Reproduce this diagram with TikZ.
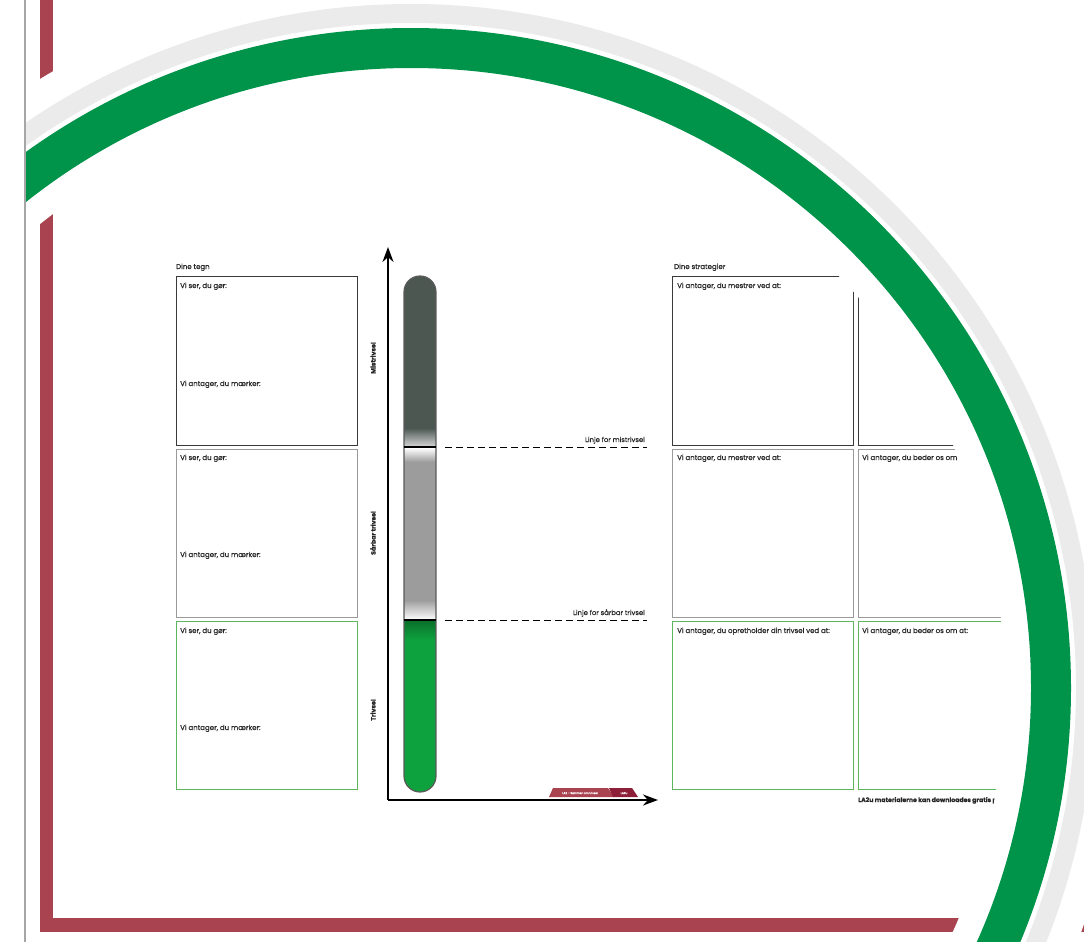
\documentclass[tikz,border=0pt]{standalone}
\usepackage{fontspec}
\setmainfont{Poppins}[FakeBold=0.4]
\usepackage{tikz}
\usetikzlibrary{arrows.meta,positioning}
\definecolor{framered}{HTML}{A8434F}
\definecolor{arcgreen}{HTML}{00944A}
\definecolor{arcgray}{HTML}{EBEBEB}
\definecolor{tubedark}{HTML}{4C5752}
\definecolor{tubegray}{HTML}{9C9C9C}
\definecolor{tubegreen}{HTML}{0EA23E}
\definecolor{boxdark}{HTML}{3A3A3A}
\definecolor{boxgray}{HTML}{9A9A9A}
\definecolor{boxgreen}{HTML}{5DB55D}
\definecolor{tabdark}{HTML}{8E1F38}

\begin{document}
\begin{tikzpicture}[x=1pt, y=-1pt,
  every node/.style={font=\fontsize{7}{8}\selectfont, inner sep=0pt, text=black!85},
  box/.style={draw, line width=1.4pt, minimum width=181pt, minimum height=168pt, anchor=north west},
  boxtext/.style={anchor=base west},
  axislabel/.style={rotate=90, font=\bfseries\fontsize{6.3}{7}\selectfont},
  linelabel/.style={anchor=base east, font=\fontsize{6.8}{8}\selectfont},
  tabtext/.style={text=white, font=\fontsize{2.8}{3}\selectfont}]
  \useasboundingbox (0,0) rectangle (1084,942);

  % red frame
  \fill[framered] (40,0) rectangle (53,932);
  \fill[framered] (40,918) rectangle (1084,932);

  % headings
  \node[anchor=base west] (signs) at (176,269) {Dine tegn};
  \node[anchor=base west] (strategies) at (674,269) {Dine strategier};

  % left column
  \node[box, draw=boxdark, minimum height=169pt] (mis) at (176,276) {};
  \node[box, draw=boxgray] (vul) at (176,449) {};
  \node[box, draw=boxgreen] (thr) at (176,621) {};
  \node[boxtext] (mis-see) at (180,288) {Vi ser, du gør:};
  \node[boxtext] (mis-feel) at (180,386) {Vi antager, du mærker:};
  \node[boxtext] (vul-see) at (180,460) {Vi ser, du gør:};
  \node[boxtext] (vul-feel) at (180,557) {Vi antager, du mærker:};
  \node[boxtext] (thr-see) at (180,633) {Vi ser, du gør:};
  \node[boxtext] (thr-feel) at (180,730) {Vi antager, du mærker:};

  % right columns, cut by the arc
  \begin{scope}
    \clip (411,688) circle[radius=594pt];
    \node[box, draw=boxdark, minimum height=169pt] (mis-a) at (672,276) {};
    \node[box, draw=boxdark, minimum height=169pt] (mis-b) at (858,276) {};
    \node[box, draw=boxgray] (vul-a) at (672,449) {};
    \node[box, draw=boxgray] (vul-b) at (858,449) {};
    \node[box, draw=boxgreen] (thr-a) at (672,621) {};
    \node[box, draw=boxgreen] (thr-b) at (858,621) {};
    \node[boxtext] at (677,288) {Vi antager, du mestrer ved at:};
    \node[boxtext] at (677,460) {Vi antager, du mestrer ved at:};
    \node[boxtext] at (862,460) {Vi antager, du beder os om at:};
    \node[boxtext] at (677,633) {Vi antager, du opretholder din trivsel ved at:};
    \node[boxtext] at (862,633) {Vi antager, du beder os om at:};
    \node[anchor=base west, font=\bfseries\fontsize{6.2}{7}\selectfont] (note) at (858,802) {LA2u materialerne kan downloades gratis på};
  \end{scope}

  % axes
  \coordinate (origin) at (388,800);
  \coordinate (ytip) at (388,247);
  \coordinate (xtip) at (658,800);
  \draw[line width=2pt, -{Stealth[length=15pt, width=11pt]}] (origin) -- (ytip);
  \draw[line width=2pt, -{Stealth[length=15pt, width=11pt]}] (origin) -- (xtip);
  \node[axislabel] (lbl-mis) at (373,358) {Mistrivsel};
  \node[axislabel] (lbl-vul) at (373,533) {Sårbar trivsel};
  \node[axislabel] (lbl-thr) at (373,710) {Trivsel};

  % tube
  \begin{scope}
    \clip[rounded corners=16pt] (404,276) rectangle (436,792);
    \fill[tubedark] (404,276) rectangle (436,447);
    \shade[top color=tubedark, bottom color=black!15] (404,428) rectangle (436,447);
    \fill[tubegray] (404,447) rectangle (436,620);
    \shade[top color=white, bottom color=tubegray] (404,448) rectangle (436,462);
    \shade[top color=tubegray, bottom color=white] (404,600) rectangle (436,620);
    \fill[tubegreen] (404,620) rectangle (436,792);
    \shade[top color=tubegreen!70!black, bottom color=tubegreen] (404,621) rectangle (436,640);
  \end{scope}
  \draw[line width=1.2pt, black!65, rounded corners=16pt] (404,276) rectangle (436,792);
  \draw[line width=1.6pt] (404,447) -- (436,447);
  \draw[line width=1.6pt] (404,620) -- (436,620);

  % threshold lines
  \coordinate (mis-l) at (445,447);
  \coordinate (mis-r) at (647,447);
  \coordinate (vul-l) at (445,620);
  \coordinate (vul-r) at (647,620);
  \draw[line width=0.9pt, dash pattern=on 7pt off 4pt] (mis-l) -- (mis-r);
  \draw[line width=0.9pt, dash pattern=on 7pt off 4pt] (vul-l) -- (vul-r);
  \node[linelabel] (mis-line) at (645,442) {Linje for mistrivsel};
  \node[linelabel] (vul-line) at (645,615) {Linje for sårbar trivsel};

  % tabs
  \fill[framered] (549,797) -- (553,788) -- (608,788) -- (614,797) -- cycle;
  \fill[tabdark] (613,797) -- (609,788) -- (632,788) -- (638,797) -- cycle;
  \node[tabtext] (tab-a) at (580,793) {LA2 -- Sammen om trivsel};
  \node[tabtext] (tab-b) at (624,793) {LA2u};

  % arcs
  \begin{scope}
    \clip (25,0) rectangle (1084,942);
    \fill[white, even odd rule] (411,688) circle[radius=713pt] (411,688) circle[radius=594pt];
    \fill[arcgray, even odd rule] (411,688) circle[radius=684pt] (411,688) circle[radius=665pt];
    \fill[arcgreen, even odd rule] (411,688) circle[radius=660pt] (411,688) circle[radius=620pt];
  \end{scope}
  \draw[line width=1.5pt, black!35] (25,0) -- (25,942);
\end{tikzpicture}
\end{document}
